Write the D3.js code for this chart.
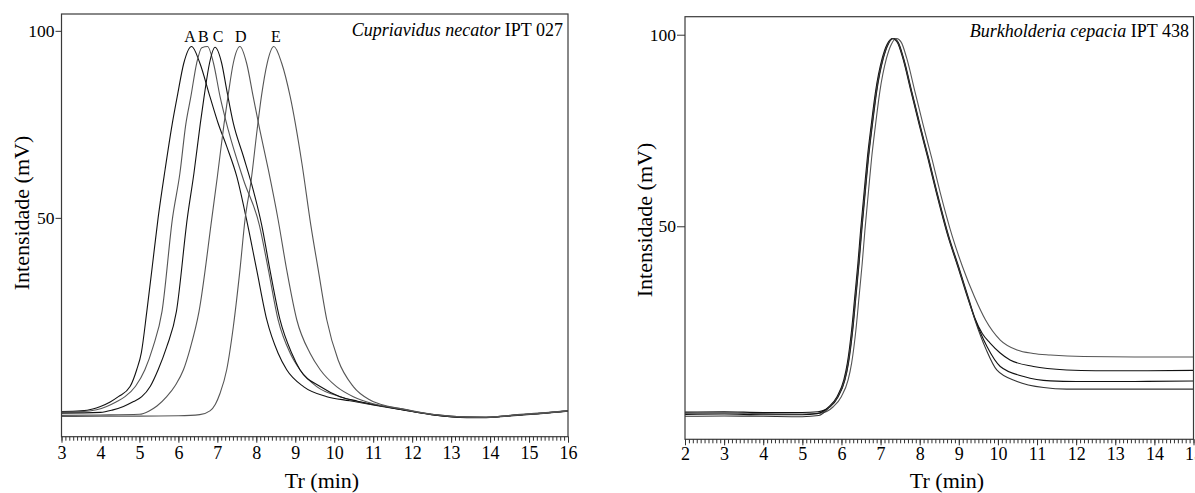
<!DOCTYPE html>
<html><head><meta charset="utf-8">
<script src="https://cdn.jsdelivr.net/npm/d3@7"></script>
<style>
body{margin:0;background:#fff}
svg{display:block}
text{font-family:"Liberation Serif","Times New Roman",serif;fill:#000}
</style>
</head><body>
<svg id="c" width="1195" height="493"></svg>
<script>
// ---------- DATA ----------
// Left panel: Cupriavidus necator IPT 027, five chromatograms A–E  [Tr (min), Intensidade (mV)]
const leftXTicks = [3,4,5,6,7,8,9,10,11,12,13,14,15,16];
const leftYTicks = [50,100];
const leftNames = ["A","B","C","D","E"];
const leftLabelTimes = [6.30,6.64,7.02,7.60,8.50];
const leftLabelLevel = 96.9;

const curveA = [[3.0,-1.8],[3.5,-1.6],[3.8,-1.1],[4.0,-0.4],[4.25,0.8],[4.46,2.2],[4.76,4.9],[4.93,9.4],[5.05,14],[5.19,25],[5.33,37],[5.48,50],[5.66,63],[5.84,75],[5.97,82.4],[6.14,91.4],[6.34,95.8],[6.55,91.4],[6.81,82.4],[7.02,75.3],[7.24,69.1],[7.50,61.0],[7.75,49.5],[8.01,36.1],[8.27,22.7],[8.56,13.8],[8.78,9.4],[9.21,4.9],[9.81,2.2],[10.4,1.1],[11.0,0.0],[11.7,-1.2],[12.5,-2.6],[13.4,-3.3],[13.9,-3.3],[14.7,-2.7],[15.8,-1.8],[16.0,-1.6]];
const curveB = [[3.0,-1.9],[3.5,-1.8],[3.9,-1.3],[4.16,-0.4],[4.40,0.8],[4.63,2.2],[4.90,5.0],[5.14,9.4],[5.35,15.5],[5.58,25],[5.85,50],[6.04,62],[6.19,75],[6.32,82.4],[6.47,91.4],[6.60,95.5],[6.75,95.8],[6.90,91.4],[7.07,82.4],[7.28,73.5],[7.67,60.2],[8.08,48.0],[8.31,36.1],[8.56,22.7],[8.87,13.8],[9.12,9.4],[9.55,4.9],[10.15,2.2],[10.6,0.9],[11.0,0.1],[11.7,-1.1],[12.5,-2.5],[13.4,-3.2],[13.9,-3.3],[14.7,-2.6],[15.8,-1.7],[16.0,-1.5]];
const curveC = [[3.0,-2.2],[4.0,-2.0],[4.3,-1.4],[4.59,-0.4],[4.85,0.9],[5.06,2.2],[5.28,5.0],[5.48,9.4],[5.70,15.5],[5.95,25],[6.23,50],[6.40,62],[6.56,75],[6.66,82.4],[6.80,91.4],[6.94,95.6],[7.11,91.4],[7.24,84.2],[7.41,75.3],[7.67,66.4],[7.92,57.5],[8.14,48.0],[8.35,36.1],[8.61,22.7],[8.91,13.8],[9.12,9.4],[9.64,4.9],[10.15,2.2],[10.6,1.0],[11.0,0.1],[11.7,-1.2],[12.5,-2.6],[13.4,-3.4],[13.9,-3.4],[14.7,-2.8],[15.8,-1.9],[16.0,-1.7]];
const curveD = [[3.0,-2.8],[4.0,-2.7],[5.0,-2.5],[5.25,-1.6],[5.45,-0.3],[5.70,2.2],[5.92,5.2],[6.13,9.4],[6.30,15],[6.53,25],[6.86,50],[7.0,61],[7.17,75],[7.28,83],[7.41,91.4],[7.58,95.8],[7.75,91.4],[7.92,82.4],[8.09,73.5],[8.31,62.8],[8.56,49.5],[8.78,36.1],[9.04,22.7],[9.38,13.8],[9.64,9.4],[10.06,4.9],[10.49,2.2],[11.0,0.3],[11.7,-1.0],[12.5,-2.5],[13.4,-3.2],[13.9,-3.3],[14.7,-2.7],[15.8,-1.8],[16.0,-1.6]];
const curveE = [[3.0,-3.1],[4.0,-3.0],[5.0,-3.0],[6.0,-2.9],[6.55,-2.6],[6.81,-1.6],[6.95,0.2],[7.07,3.1],[7.24,9.4],[7.41,20.9],[7.58,36.1],[7.71,49.5],[7.87,60.2],[8.02,73.5],[8.13,82.4],[8.28,91.4],[8.45,95.8],[8.65,91.4],[8.87,82.4],[9.17,64.6],[9.40,48],[9.59,36.1],[9.81,22.7],[10.1,12.0],[10.49,4.9],[10.92,1.3],[11.35,-0.3],[11.7,-1.0],[12.5,-2.5],[13.4,-3.3],[13.9,-3.3],[14.7,-2.7],[15.8,-1.8],[16.0,-1.6]];

// Right panel: Burkholderia cepacia IPT 438, four chromatograms
const rightXTicks = [2,3,4,5,6,7,8,9,10,11,12,13,14,15];
const rightYTicks = [50,100];
const curveR1 = [[2.0,1.2],[3.0,1.3],[4.0,1.1],[5.0,1.0],[5.45,1.2],[5.79,2.9],[6.0,5.6],[6.17,9.9],[6.26,14.3],[6.37,23.0],[6.45,31.6],[6.53,40.3],[6.60,49.0],[6.69,59.0],[6.77,67.7],[6.87,76.4],[6.98,85.1],[7.15,93.8],[7.28,97.6],[7.41,99.0],[7.53,98.0],[7.67,93.8],[7.88,85.1],[8.09,76.4],[8.31,67.7],[8.52,59.0],[8.83,47.5],[9.10,39.3],[9.40,31.6],[9.68,25.6],[10.06,20.3],[10.49,17.7],[10.9,16.8],[11.34,16.4],[12.19,16.0],[13.5,15.9],[15.0,15.9]];
const curveR2 = [[2.0,1.5],[3.0,1.6],[4.0,1.4],[5.0,1.4],[5.4,1.6],[5.71,2.9],[5.92,5.6],[6.09,9.9],[6.18,14.3],[6.29,23.0],[6.37,31.6],[6.45,40.3],[6.52,49.0],[6.61,59.0],[6.69,67.7],[6.79,76.4],[6.90,85.1],[7.07,93.8],[7.20,97.6],[7.33,99.0],[7.45,98.0],[7.59,93.8],[7.80,85.1],[8.01,76.4],[8.23,67.7],[8.44,59.0],[8.74,47.5],[9.0,39.3],[9.25,31.2],[9.42,25.8],[9.60,22.0],[9.80,19.5],[10.05,17.0],[10.31,15.1],[10.91,13.4],[11.76,12.5],[12.5,12.3],[13.5,12.3],[15.0,12.4]];
const curveR3 = [[2.0,0.9],[3.0,1.0],[4.0,0.8],[5.0,0.8],[5.38,1.1],[5.68,2.9],[5.89,5.6],[6.06,9.9],[6.15,14.3],[6.26,23.0],[6.34,31.6],[6.42,40.3],[6.49,49.0],[6.58,59.0],[6.66,67.7],[6.76,76.4],[6.87,85.1],[7.04,93.8],[7.17,97.6],[7.31,99.0],[7.43,98.0],[7.57,93.8],[7.78,85.1],[7.99,76.4],[8.21,67.7],[8.42,59.0],[8.72,47.5],[8.98,39.3],[9.23,31.2],[9.42,25.6],[9.72,18.6],[10.06,13.4],[10.66,10.8],[11.34,9.65],[12.0,9.5],[13.5,9.5],[15.0,9.6]];
const curveR4 = [[2.0,0.4],[3.0,0.5],[4.0,0.4],[5.0,0.3],[5.42,0.6],[5.70,2.9],[5.91,5.6],[6.08,9.9],[6.17,14.3],[6.28,23.0],[6.36,31.6],[6.44,40.3],[6.51,49.0],[6.60,59.0],[6.68,67.7],[6.78,76.4],[6.89,85.1],[7.06,93.8],[7.19,97.6],[7.32,99.0],[7.44,98.0],[7.58,93.8],[7.79,85.1],[8.00,76.4],[8.22,67.7],[8.43,59.0],[8.73,47.5],[8.99,39.3],[9.24,31.2],[9.42,25.3],[9.70,17.8],[9.97,12.5],[10.49,9.5],[11.17,7.9],[11.76,7.5],[13.5,7.5],[15.0,7.5]];

// ---------- DRAWING ----------
const SERIF = '"Liberation Serif","Times New Roman",serif';
const svg = d3.select("#c");

function panel(cfg) {
  const x = d3.scaleLinear().domain(cfg.xDomain).range([cfg.left, cfg.right]);
  const y = d3.scaleLinear().domain(cfg.yDomain).range([cfg.bottom, cfg.top]);
  const g = svg.append("g");
  const line = d3.line().x(d => x(d[0])).y(d => y(d[1])).curve(d3.curveMonotoneX);

  cfg.series.forEach(s => {
    g.append("path").attr("d", line(s.data))
      .attr("fill", "none").attr("stroke", s.color).attr("stroke-width", 1.1);
  });

  // frame
  g.append("rect").attr("x", cfg.left).attr("y", cfg.top)
    .attr("width", cfg.right - cfg.left).attr("height", cfg.bottom - cfg.top)
    .attr("fill", "none").attr("stroke", "#3a3a3a").attr("stroke-width", 1.2);

  // minor x ticks
  const minor = d3.range(cfg.xDomain[0] * 10, cfg.xDomain[1] * 10 + 1).map(v => v / 10);
  g.append("g").attr("transform", `translate(0,${cfg.bottom})`)
    .call(d3.axisBottom(x).tickValues(minor).tickSize(4).tickFormat(""))
    .call(a => a.select(".domain").remove())
    .selectAll("line").attr("stroke", "#333");

  // major x ticks + labels
  const xg = g.append("g").attr("transform", `translate(0,${cfg.bottom})`)
    .call(d3.axisBottom(x).tickValues(cfg.xTicks).tickSize(6).tickFormat(d3.format("d")));
  xg.attr("font-family", SERIF).attr("font-size", 18);
  xg.select(".domain").remove();
  xg.selectAll("line").attr("stroke", "#333");
  xg.selectAll("text").attr("y", cfg.xLabelOffset).attr("dy", 0).attr("fill", "#000");

  // y ticks
  const yg = g.append("g").attr("transform", `translate(${cfg.left},0)`)
    .call(d3.axisLeft(y).tickValues(cfg.yTicks).tickSize(cfg.yTickSize).tickPadding(1).tickFormat(d3.format("d")));
  yg.attr("font-family", SERIF).attr("font-size", 17.5);
  yg.select(".domain").remove();
  yg.selectAll("line").attr("stroke", "#333");
  yg.selectAll("text").attr("fill", "#000");

  // axis titles
  g.append("text").attr("x", cfg.xTitleX).attr("y", 488).attr("text-anchor", "middle")
    .attr("font-family", SERIF).attr("font-size", 22).text("Tr (min)");
  g.append("text").attr("transform", `translate(${cfg.yTitleX},${cfg.yTitleY}) rotate(-90)`)
    .attr("text-anchor", "middle").attr("font-family", SERIF).attr("font-size", 22).text("Intensidade (mV)");

  // panel title
  const t = g.append("text").attr("x", cfg.titleX).attr("y", cfg.titleY)
    .attr("text-anchor", "end").attr("font-family", SERIF).attr("font-size", 18);
  t.append("tspan").attr("font-style", "italic").text(cfg.titleItalic);
  t.append("tspan").text(" " + cfg.titleRest);
  return {x, y, g};
}

const L = panel({
  xDomain: [3, 16], yDomain: [-8.5, 104.5],
  left: 61.5, right: 568, top: 14, bottom: 436.7,
  xTicks: leftXTicks, yTicks: leftYTicks, yTickSize: 6,
  xLabelOffset: 22.6, xTitleX: 322, yTitleX: 29, yTitleY: 213,
  titleX: 563, titleY: 36, titleItalic: "Cupriavidus necator", titleRest: "IPT 027",
  series: [
    {data: curveA, color: "#111"},
    {data: curveB, color: "#555"},
    {data: curveC, color: "#111"},
    {data: curveD, color: "#555"},
    {data: curveE, color: "#555"}
  ]
});
L.g.selectAll(".peakLabel").data(leftNames).enter().append("text")
  .attr("class", "peakLabel")
  .attr("x", (d, i) => L.x(leftLabelTimes[i]))
  .attr("y", L.y(leftLabelLevel))
  .attr("text-anchor", "middle").attr("font-family", SERIF).attr("font-size", 16).text(d => d);

panel({
  xDomain: [2, 15], yDomain: [-5.6, 104.7],
  left: 685, right: 1193.5, top: 16.7, bottom: 439.3,
  xTicks: rightXTicks, yTicks: rightYTicks, yTickSize: 8,
  xLabelOffset: 20.7, xTitleX: 947, yTitleX: 652, yTitleY: 220,
  titleX: 1189, titleY: 37.3, titleItalic: "Burkholderia cepacia", titleRest: "IPT 438",
  series: [
    {data: curveR1, color: "#555"},
    {data: curveR2, color: "#111"},
    {data: curveR3, color: "#111"},
    {data: curveR4, color: "#333"}
  ]
});
</script>
</body></html>
